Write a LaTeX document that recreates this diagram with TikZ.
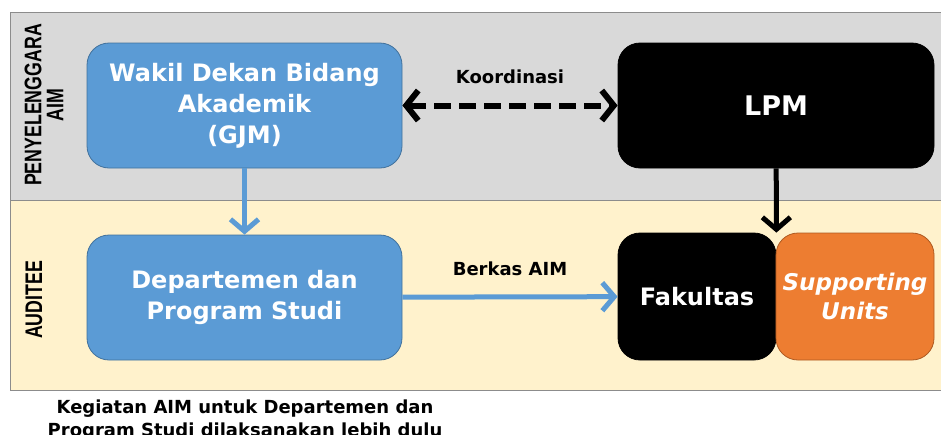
\documentclass[tikz,border=0pt]{standalone}
\usepackage{fontspec}
\setmainfont{DejaVu Sans}
\newfontfamily\lanefont[FakeStretch=0.74]{Liberation Sans}
\usetikzlibrary{arrows.meta}

\definecolor{unitblue}{HTML}{5B9BD5}
\definecolor{unitblueline}{HTML}{41719C}
\definecolor{unitorange}{HTML}{ED7D31}
\definecolor{unitorangeline}{HTML}{AE5A21}
\definecolor{lanegray}{HTML}{D9D9D9}
\definecolor{lanecream}{HTML}{FFF2CC}
\definecolor{laneline}{HTML}{8C8C8C}

\tikzset{
  unitbox/.style={rounded corners=11pt, align=center, text=white, font=\bfseries\fontsize{12}{15.5}\selectfont, minimum height=62.5pt},
  bluebox/.style={unitbox, draw=unitblueline, fill=unitblue, minimum width=157.5pt},
  blackbox/.style={unitbox, draw=black, fill=black},
  orangebox/.style={unitbox, draw=unitorangeline, fill=unitorange},
  lanelabel/.style={rotate=90, align=center, font=\lanefont\bfseries\fontsize{12}{11}\selectfont},
  arrowlabel/.style={text=black, font=\bfseries\fontsize{9}{10}\selectfont},
  flow/.style={line width=2.5pt, -{Straight Barb[length=6pt, width=14pt, line width=2.5pt]}}
}

\begin{document}
\begin{tikzpicture}[x=0.5pt,y=-0.5pt]
    \useasboundingbox (0,0) rectangle (941,434);

    % Lanes
    \draw[laneline, fill=lanegray] (10,12) rectangle (960,200);
    \draw[laneline, fill=lanecream] (10,200) rectangle (960,390);
    \node[lanelabel] (Pen) at (44,105) {PENYELENGGARA\\AIM};
    \node[lanelabel] (Aud) at (34,300) {AUDITEE};

    % Units
    \node[bluebox] (Wakil) at (244.5,105.5) {Wakil Dekan Bidang\\Akademik\\(GJM)};
    \node[bluebox] (Dept) at (244.5,297.5) {Departemen dan\\Program Studi};
    \node[blackbox, minimum width=158pt, font=\bfseries\fontsize{13.5}{16}\selectfont] (LPM) at (776,105.5) {LPM};
    \node[blackbox, minimum width=79pt, minimum height=63.5pt] (Fak) at (697,296.5) {Fakultas};
    \node[orangebox, minimum width=79pt, minimum height=63.5pt, font=\bfseries\itshape\fontsize{11.5}{14.5}\selectfont] (Sup) at (855,296.5) {Supporting\\Units};

    % Arrows
    \draw[line width=3pt, dash pattern=on 8.5pt off 4pt,
      {Straight Barb[length=6pt, width=15pt, line width=3pt]}-{Straight Barb[length=6pt, width=15pt, line width=3pt]}]
      (Wakil) -- node[arrowlabel, above=6pt] (Koor) {Koordinasi} (LPM);
    \draw[flow, unitblue] (Dept) -- node[arrowlabel, above=6pt] (Berk) {Berkas AIM} (Fak);
    \draw[flow, unitblue] (Wakil) -- (Dept);
    \draw[flow, black] (LPM) -- (Fak.north east);

    \node[font=\bfseries\fontsize{9}{11.5}\selectfont, align=center] (Cap) at (245,420) {Kegiatan AIM untuk Departemen dan\\Program Studi dilaksanakan lebih dulu};
\end{tikzpicture}
\end{document}
